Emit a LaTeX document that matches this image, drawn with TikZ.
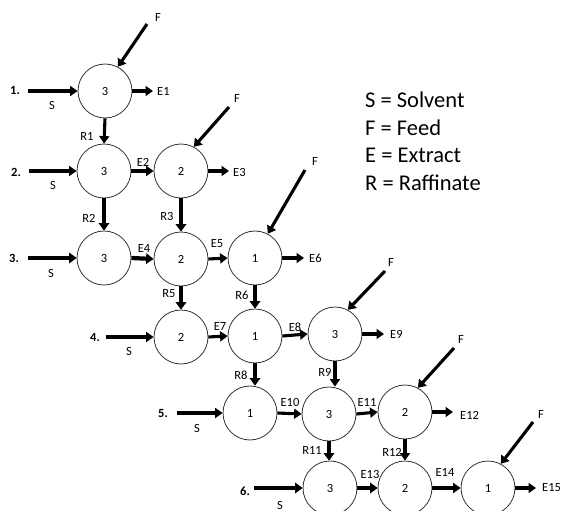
\documentclass[tikz,border=0pt]{standalone}
\usepackage{fontspec}
\setmainfont{Carlito}
\usetikzlibrary{arrows.meta}
\begin{document}
\begin{tikzpicture}[x=1pt,y=-1pt,
  stage/.style={circle,draw=black!80,line width=0.8pt,minimum size=54pt,inner sep=0pt,font=\fontsize{12.5}{14}\selectfont},
  lbl/.style={inner sep=0pt,font=\fontsize{12.5}{14}\selectfont},
  num/.style={inner sep=0pt,font=\fontsize{12.5}{14}\selectfont\bfseries},
  leg/.style={anchor=west,inner sep=0pt,font=\fontsize{22.5}{26}\selectfont},
  flow/.style={line width=3.1pt,-{Triangle[length=7.5pt,width=10pt]}},
  flowthick/.style={line width=4.2pt,-{Triangle[length=7.5pt,width=10.5pt]}}]
\useasboundingbox (0,0) rectangle (563,511);
% stages
\node[stage] (c1) at (105,91) {3};
\node[stage] (c2a) at (104,171) {3};
\node[stage] (c2b) at (181,171) {2};
\node[stage] (c3a) at (104,258) {3};
\node[stage] (c3b) at (181,259) {2};
\node[stage] (c3c) at (255,258) {1};
\node[stage] (c4a) at (181,337) {2};
\node[stage] (c4b) at (255,336) {1};
\node[stage] (c4c) at (335,334) {3};
\node[stage] (c5a) at (250,413) {1};
\node[stage] (c5b) at (329,414) {3};
\node[stage] (c5c) at (405,412) {2};
\node[stage] (c6a) at (330,488) {3};
\node[stage] (c6b) at (405,488) {2};
\node[stage] (c6c) at (488,488) {1};
% stage row numbers
\node[num] (n1) at (15,90) {1.};
\node[num] (n2) at (16,172) {2.};
\node[num] (n3) at (14,258) {3.};
\node[num] (n4) at (95,337) {4.};
\node[num] (n5) at (163,413) {5.};
\node[num] (n6) at (245,491) {6.};
% solvent inputs
\coordinate (s1) at (28,91);
\coordinate (s2) at (29,171);
\coordinate (s3) at (28,258);
\coordinate (s4) at (106,337);
\coordinate (s5) at (177,413);
\coordinate (s6) at (254,488);
\draw[flow] (s1) -- (c1.west);
\draw[flow] (s2) -- (c2a.west);
\draw[flowthick] (s3) -- (c3a.west);
\draw[flow] (s4) -- (c4a.west);
\draw[flow] (s5) -- (c5a.west);
\draw[flowthick] (s6) -- (c6a.west);
\node[lbl] (sl1) at (52,105) {S};
\node[lbl] (sl2) at (53,185) {S};
\node[lbl] (sl3) at (51,273) {S};
\node[lbl] (sl4) at (129,351) {S};
\node[lbl] (sl5) at (197,428) {S};
\node[lbl] (sl6) at (280,505) {S};
% feeds
\coordinate (f1) at (147,24);
\coordinate (f2) at (229,107);
\coordinate (f3) at (305,170);
\coordinate (f4) at (385,271);
\coordinate (f5) at (454,348);
\coordinate (f6) at (533,422);
\draw[flow] (f1) -- (c1.62);
\draw[flow] (f2) -- (c2b.62);
\draw[flow] (f3) -- (c3c.62);
\draw[flow] (f4) -- (c4c.62);
\draw[flow] (f5) -- (c5c.62);
\draw[flow] (f6) -- (c6c.62);
\node[lbl] (fl1) at (158,17) {F};
\node[lbl] (fl2) at (237,98) {F};
\node[lbl] (fl3) at (315,161) {F};
\node[lbl] (fl4) at (391,262) {F};
\node[lbl] (fl5) at (461,339) {F};
\node[lbl] (fl6) at (541,414) {F};
% extract outlets
\coordinate (e1) at (153,91);
\coordinate (e3) at (229,171);
\coordinate (e6) at (304,258);
\coordinate (e9) at (384,334);
\coordinate (e12) at (453,412);
\coordinate (e15) at (536,488);
\draw[flow] (c1.east) -- (e1);
\draw[flow] (c2b.east) -- (e3);
\draw[flow] (c3c.east) -- (e6);
\draw[flow] (c4c.east) -- (e9);
\draw[flow] (c5c.east) -- (e12);
\draw[flow] (c6c.east) -- (e15);
\node[lbl,anchor=west] (el1) at (157,91) {E1};
\node[lbl,anchor=west] (el3) at (233,172) {E3};
\node[lbl,anchor=west] (el6) at (309,258) {E6};
\node[lbl,anchor=west] (el9) at (390,334) {E9};
\node[lbl,anchor=west] (el12) at (460,415) {E12};
\node[lbl,anchor=west] (el15) at (542,488) {E15};
% extracts between stages
\draw[flow] (c2a.east) -- (c2b.west);
\draw[flowthick] (c3a.east) -- (c3b.west);
\draw[flow] (c3b.east) -- (c3c.west);
\draw[flow] (c4a.east) -- (c4b.west);
\draw[flow] (c4b.east) -- (c4c.west);
\draw[flow] (c5a.east) -- (c5b.west);
\draw[flow] (c5b.east) -- (c5c.west);
\draw[flowthick] (c6a.east) -- (c6b.west);
\draw[flow] (c6b.east) -- (c6c.west);
\node[lbl] (el2) at (143,162) {E2};
\node[lbl] (el4) at (144,248) {E4};
\node[lbl] (el5) at (217,244) {E5};
\node[lbl] (el7) at (220,326) {E7};
\node[lbl] (el8) at (295,327) {E8};
\node[lbl] (el10) at (290,402) {E10};
\node[lbl] (el11) at (367,402) {E11};
\node[lbl] (el13) at (370,474) {E13};
\node[lbl] (el14) at (445,472) {E14};
% raffinates
\draw[flow] (c1.south) -- (c2a.north);
\draw[flowthick] (c2a.south) -- (c3a.north);
\draw[flowthick] (c2b.south) -- (c3b.north);
\draw[flowthick] (c3b.south) -- (c4a.north);
\draw[flowthick] (c3c.south) -- (c4b.north);
\draw[flowthick] (c4b.south) -- (c5a.north -| c4b.south);
\draw[flow] (c4c.south) -- (c5b.north -| c4c.south);
\draw[flowthick] (c5b.south) -- (c6a.north -| c5b.south);
\draw[flow] (c5c.south) -- (c6b.north);
\node[lbl] (rl1) at (87,136) {R1};
\node[lbl] (rl2) at (89,218) {R2};
\node[lbl] (rl3) at (167,216) {R3};
\node[lbl] (rl5) at (169,294) {R5};
\node[lbl] (rl6) at (242,295) {R6};
\node[lbl] (rl8) at (241,375) {R8};
\node[lbl] (rl9) at (325,372) {R9};
\node[lbl] (rl11) at (312,450) {R11};
\node[lbl] (rl12) at (392,452) {R12};
% legend
\node[leg] (lg1) at (365,100) {S = Solvent};
\node[leg] (lg2) at (365,127.5) {F = Feed};
\node[leg] (lg3) at (365,155) {E = Extract};
\node[leg] (lg4) at (365,182.5) {R = Raffinate};
\end{tikzpicture}
\end{document}
